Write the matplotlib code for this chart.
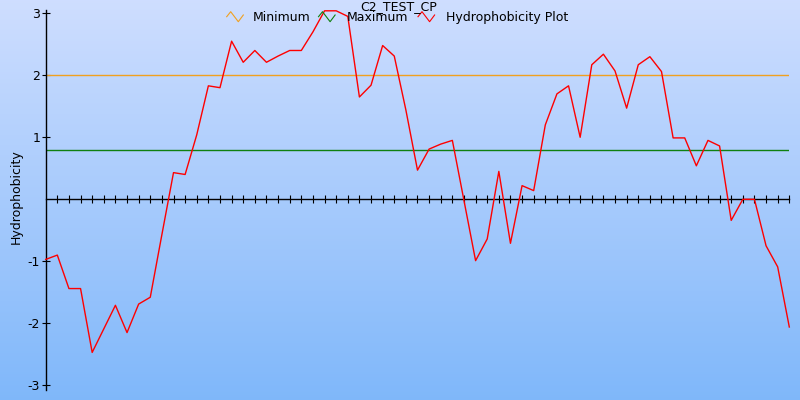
import numpy as np
import matplotlib
matplotlib.use("Agg")
import matplotlib.pyplot as plt
from matplotlib.lines import Line2D

# hydrophobicity values per position
hydro = [-0.97, -0.90, -1.44, -1.44, -2.47, -2.09, -1.71, -2.15, -1.69, -1.58,
         -0.57, 0.43, 0.40, 1.04, 1.83, 1.80, 2.55, 2.21, 2.40, 2.21,
         2.31, 2.40, 2.40, 2.70, 3.04, 3.04, 2.95, 1.65, 1.84, 2.48,
         2.31, 1.44, 0.47, 0.81, 0.89, 0.95, -0.02, -0.99, -0.64, 0.45,
         -0.71, 0.22, 0.14, 1.20, 1.70, 1.83, 1.00, 2.17, 2.34, 2.07,
         1.47, 2.17, 2.30, 2.06, 0.99, 0.99, 0.54, 0.95, 0.86, -0.34,
         0.00, 0.00, -0.75, -1.09, -2.06]
minimum = 2.0
maximum = 0.8
title = "C2_TEST_CP"
legend_labels = ["Minimum", "Maximum", "Hydrophobicity Plot"]
y_ticks = [-3, -2, -1, 0, 1, 2, 3]
y_tick_labels = ["-3", "-2", "-1", "", "1", "2", "3"]

W, H = 800, 400
fig = plt.figure(figsize=(8, 4), dpi=100)

# background gradient
bg = fig.add_axes([0, 0, 1, 1], zorder=-10)
grad = np.linspace(0, 1, 256).reshape(-1, 1)
top = np.array([0.81, 0.87, 1.0])
bot = np.array([0.50, 0.72, 0.98])
img = top + (bot - top) * grad[:, :, None]
bg.imshow(img, aspect="auto", extent=[0, 1, 0, 1])
bg.axis("off")

x = np.arange(len(hydro))
ax = fig.add_axes([45.7 / W, 10 / H, (789.3 - 45.7) / W, 380 / H])
ax.patch.set_alpha(0)
ax.set_xlim(0, len(hydro) - 1)
ax.set_ylim(-3.076, 3.053)

ax.axhline(minimum, color="#f0a020", lw=1, zorder=2)
ax.axhline(maximum, color="#108010", lw=1, zorder=2)
ax.plot(x, hydro, color="red", lw=1, zorder=5, clip_on=False)

for s in ["top", "right"]:
    ax.spines[s].set_visible(False)
ax.spines["bottom"].set_position(("data", 0))
ax.spines["left"].set_linewidth(1.0)
ax.spines["bottom"].set_linewidth(1.0)
ax.set_xticks(x[1:])
ax.set_xticklabels([])
ax.tick_params(axis="x", direction="inout", length=6, width=0.8)
ax.set_yticks(y_ticks)
ax.set_yticklabels(y_tick_labels)
ax.tick_params(axis="y", direction="inout", length=6, width=0.8, labelsize=9, pad=1)
ax.yaxis.get_major_ticks()[3].tick1line.set_visible(False)

fig.text(16 / W, 1 - 197 / H, "Hydrophobicity", rotation=90, ha="center",
         va="center", fontsize=9)
fig.text(399 / W, 1 - 6.5 / H, title, ha="center", va="center", fontsize=9)

# legend
colors = ["#f0a020", "#108010", "red"]
sym_x = [226.7, 318.5, 418.0]
txt_x = [253.0, 347.0, 446.0]
zx = np.array([0, 4, 11.6, 16.6])
zy = np.array([16.7, 11.7, 21.7, 15.0])
for c, sx, tx, lab in zip(colors, sym_x, txt_x, legend_labels):
    fig.add_artist(Line2D((sx + zx) / W, 1 - zy / H, color=c, lw=0.8))
    fig.text(tx / W, 1 - 17.5 / H, lab, ha="left", va="center", fontsize=9)

fig.savefig("out.png", dpi=100)
